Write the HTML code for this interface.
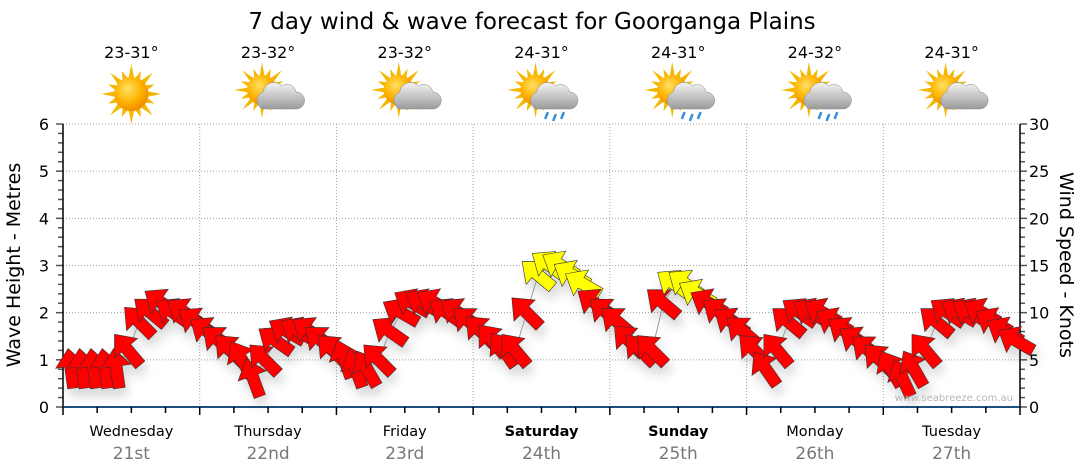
<!DOCTYPE html>
<html><head><meta charset="utf-8">
<style>
body{margin:0;background:#fff;width:1080px;height:475px;overflow:hidden;font-family:"DejaVu Sans","Liberation Sans",sans-serif;}
svg{display:block}
</style></head>
<body>
<svg id="chart" width="1080" height="475" viewBox="0 0 1080 475" xmlns="http://www.w3.org/2000/svg">
<defs>
<radialGradient id="sunG" cx="40%" cy="35%" r="65%"><stop offset="0" stop-color="#ffe066"/><stop offset="0.6" stop-color="#ffb300"/><stop offset="1" stop-color="#f08c00"/></radialGradient>
<linearGradient id="cloudG" x1="0" y1="0" x2="0" y2="1"><stop offset="0" stop-color="#f4f4f4"/><stop offset="1" stop-color="#9a9a9a"/></linearGradient>
<filter id="shadow" x="-50%" y="-50%" width="200%" height="200%"><feDropShadow dx="3" dy="8" stdDeviation="5" flood-color="#000" flood-opacity="0.15"/></filter>
</defs>
<text x="532" y="29" text-anchor="middle" font-size="23" fill="#000">7 day wind &amp; wave forecast for Goorganga Plains</text>
<g id="grid"></g>
<g id="axes"></g>
<g id="icons"></g>
<g id="series" filter="url(#shadow)"></g>
<text x="1013" y="401" text-anchor="end" font-size="10" fill="#b8b8b8">www.seabreeze.com.au</text>
<text transform="translate(20,265) rotate(-90)" text-anchor="middle" font-size="19" fill="#000">Wave Height - Metres</text>
<text transform="translate(1060,265) rotate(90)" text-anchor="middle" font-size="19" fill="#000">Wind Speed - Knots</text>
</svg>
<script>
const days = ["Wednesday","Thursday","Friday","Saturday","Sunday","Monday","Tuesday"];
const dates = ["21st","22nd","23rd","24th","25th","26th","27th"];
const boldDays = [false,false,false,true,true,false,false];
const temps = ["23-31°","23-32°","23-32°","24-31°","24-31°","24-32°","24-31°"];
const weather = ["sun","cloud","cloud","rain","rain","rain","cloud"];
const waveTicks = [0,1,2,3,4,5,6];
const windTicks = [0,5,10,15,20,25,30];
const windSpeed = [
4,4,4,4,4,6,9,10,11,10,10,9,
8,7,6,5,3,5,7,8,8,8,7,6,
5,4,4,5,8,10,11,11,11,10,10,9,
8,7,6,6,10,14,15,15,14,13,11,10,
9,7,6,6,11,13,13,12,11,10,9,8,
6,4,6,9,10,10,10,9,8,7,6,5,
4,3,4,6,9,10,10,10,10,9,8,7];
const windDir = [
-8,-8,-8,-8,-8,-40,-45,-50,-55,-55,-55,-55,
-55,-50,-45,-30,-20,-45,-55,-60,-60,-55,-50,-45,
-20,-20,-30,-45,-55,-60,-60,-60,-60,-55,-55,-50,
-45,-40,-35,-40,-45,-50,-55,-60,-60,-60,-55,-50,
-50,-45,-45,-45,-50,-55,-55,-60,-60,-55,-55,-50,
-45,-35,-40,-50,-55,-60,-60,-60,-55,-55,-50,-45,
-30,-25,-30,-40,-50,-55,-60,-60,-60,-60,-60,-60];

const X0=63,X1=1020,Y0=407,YT=124;
const NS="http://www.w3.org/2000/svg";
const dayW=(X1-X0)/days.length;
function yWave(v){return Y0-(v/6)*(Y0-YT);}
function yWind(v){return Y0-(v/30)*(Y0-YT);}
function xIdx(i){return X0+8+i*(dayW/12);}
function mk(tag,attrs,parent,txt){const e=document.createElementNS(NS,tag);for(const k in attrs)e.setAttribute(k,attrs[k]);if(txt!==undefined)e.textContent=txt;parent.appendChild(e);return e;}
const grid=document.getElementById('grid'),axes=document.getElementById('axes'),icons=document.getElementById('icons'),series=document.getElementById('series');

waveTicks.forEach(v=>{
  if(v>0){const g=mk('line',{x1:X0,x2:X1,y1:yWave(v),y2:yWave(v),stroke:'#a0a0a0','stroke-dasharray':'1,2'},grid);
  
  }
  const t=mk('text',{x:X0-14,y:yWave(v)+6,'text-anchor':'end','font-size':16,fill:'#000'},axes,v);
  
  
});
windTicks.forEach(v=>{
  const t=mk('text',{x:X1+9,y:yWind(v)+6,'text-anchor':'start','font-size':16,fill:'#000'},axes,v);
  
  
});
for(let k=0;k<=30;k++){const y=yWind(k);const len=(k%5==0)?7:5;
  mk('line',{x1:X0-len,x2:X0,y1:y,y2:y,stroke:'#555','stroke-width':1.5},axes);
  mk('line',{x1:X1,x2:X1+len,y1:y,y2:y,stroke:'#555','stroke-width':1.5},axes);}
mk('line',{x1:X0,x2:X0,y1:YT,y2:Y0,stroke:'#000','stroke-width':1.5},axes);
mk('line',{x1:X1,x2:X1,y1:YT,y2:Y0,stroke:'#000','stroke-width':1.5},axes);
mk('line',{x1:X0,x2:X1,y1:Y0,y2:Y0,stroke:'#1a4f80','stroke-width':2},axes);
for(let k=0;k<=28;k++){const x=X0+k*dayW/4;mk('line',{x1:x,x2:x,y1:Y0,y2:Y0+(k%4==0?8:6),stroke:'#000','stroke-width':1.5},axes);}

function sun(g,cx,cy,r){
  for(let a=0;a<16;a++){const ang=a*Math.PI/8;const L=(a%2==0)?r+13:r+8;
    const p=[[cx+Math.cos(ang)*L,cy+Math.sin(ang)*L],[cx+Math.cos(ang+0.18)*(r-1),cy+Math.sin(ang+0.18)*(r-1)],[cx+Math.cos(ang-0.18)*(r-1),cy+Math.sin(ang-0.18)*(r-1)]];
    mk('polygon',{points:p.map(q=>q.join(',')).join(' '),fill:'#f5b800'},g);}
  mk('circle',{cx:cx,cy:cy,r:r,fill:'url(#sunG)'},g);
}
function cloud(g,cx,cy){
  mk('path',{d:`M${cx-15},${cy+13} a9,9 0 0 1 0,-17 a11,11 0 0 1 19,-6 a9,9 0 0 1 14,6 a8.5,8.5 0 0 1 0,17 z`,fill:'url(#cloudG)',stroke:'#888','stroke-width':0.5},g);
}
days.forEach((d,i)=>{
  const cx=X0+dayW*(i+0.5);
  if(i>0){const l=mk('line',{x1:X0+dayW*i,x2:X0+dayW*i,y1:YT,y2:Y0,stroke:'#a0a0a0','stroke-dasharray':'1,2'},grid);
  
  }
  const t=mk('text',{x:cx,y:436,'text-anchor':'middle','font-size':14.5,fill:'#000','font-weight':boldDays[i]?'bold':'normal'},axes,d);
  
  
  const dt=mk('text',{x:cx,y:459,'text-anchor':'middle','font-size':17,fill:'#777'},axes,dates[i]);
  
  
  const tt=mk('text',{x:cx,y:58,'text-anchor':'middle','font-size':16,fill:'#000'},icons,temps[i]);
  
  
  const g=mk('g',{},icons);
  
  
  if(weather[i]=="sun"){sun(g,cx,94,17);}
  else{sun(g,cx-6,90,15);cloud(g,cx+10,96);
    if(weather[i]=="rain"){[[-4,0],[4,2],[12,0]].forEach(o=>{mk('path',{d:`M${cx+10+o[0]},${113+o[1]} l-2,5`,stroke:'#3a8fd8','stroke-width':2.5,'stroke-linecap':'round'},g);});}}
});

const pts=windSpeed.map((v,i)=>xIdx(i)+','+yWind(v)).join(' ');
const pl=mk('polyline',{points:pts,fill:'none',stroke:'#999','stroke-width':1},series);


windSpeed.forEach((v,i)=>{
  const x=xIdx(i),y=yWind(v);
  const col=v>=12?'#ffff00':'#ff0000';
  const a=mk('polygon',{points:'0,-21 15,-3 6,-3 6,19 -6,19 -6,-3 -15,-3',fill:col,stroke:'#333','stroke-width':0.6,transform:`translate(${x},${y}) rotate(${windDir[i]})`},series);
  
  
});
</script>
</body></html>
